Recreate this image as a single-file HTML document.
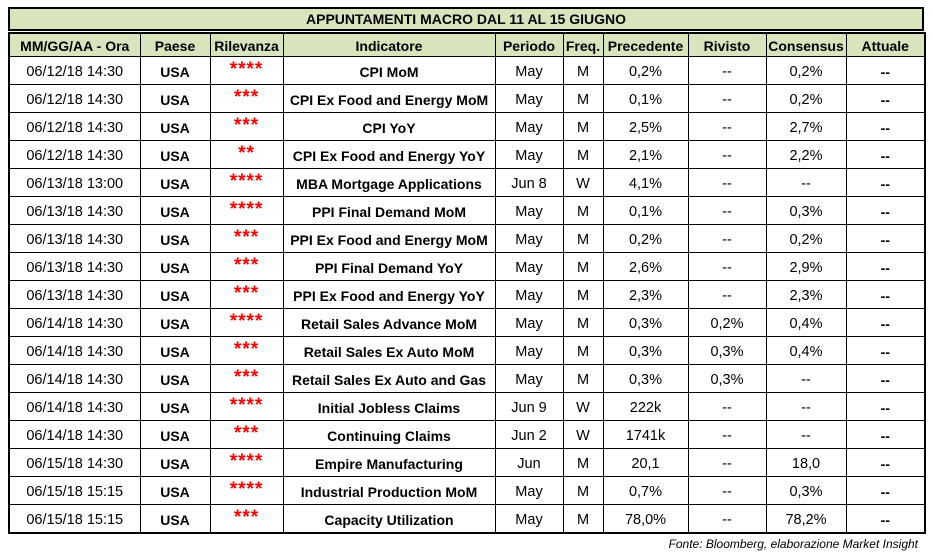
<!DOCTYPE html>
<html><head><meta charset="utf-8">
<style>
body{margin:0;background:#fff;width:932px;height:554px;position:relative;overflow:hidden;font-family:"Liberation Sans",Arial,sans-serif;color:#000}
#title{position:absolute;left:8px;top:7px;width:912px;height:20px;border:2px solid #000;background:#d8e4bc;font-weight:bold;font-size:14px;text-align:center;line-height:21px}
#tbl{position:absolute;left:8px;top:32px;border-collapse:collapse;table-layout:fixed;border:2px solid #000}
#tbl td,#tbl th{border:1px solid #000;text-align:center;padding:0;white-space:nowrap;overflow:hidden}
#tbl th{background:#d8e4bc;font-weight:bold;font-size:14px}
#tbl th div{height:22px;line-height:24px;overflow:hidden}
#tbl td div{height:27px;line-height:31px;overflow:hidden;font-size:14.5px}
#tbl td.b div{font-weight:bold;font-size:14px;line-height:30px}
#tbl td.r div{color:#ff0000;font-weight:bold;line-height:26px;font-size:19px;letter-spacing:1px}
#foot{position:absolute;right:14px;top:537px;font-size:12px;font-style:italic}
</style></head><body>
<div id="title">APPUNTAMENTI MACRO DAL 11 AL 15 GIUGNO</div>
<table id="tbl">
<colgroup><col style="width:131px"><col style="width:70px"><col style="width:73px"><col style="width:212px"><col style="width:68px"><col style="width:40px"><col style="width:85px"><col style="width:78px"><col style="width:80px"><col style="width:79px"></colgroup>
<thead><tr>
<th><div>MM/GG/AA - Ora</div></th><th><div>Paese</div></th><th><div>Rilevanza</div></th><th><div>Indicatore</div></th><th><div>Periodo</div></th><th><div>Freq.</div></th><th><div>Precedente</div></th><th><div>Rivisto</div></th><th><div>Consensus</div></th><th><div>Attuale</div></th>
</tr></thead>
<tbody id="body"></tbody>
</table>
<div id="foot">Fonte: Bloomberg, elaborazione Market Insight</div>
<script>
const dates=["06/12/18 14:30","06/12/18 14:30","06/12/18 14:30","06/12/18 14:30","06/13/18 13:00","06/13/18 14:30","06/13/18 14:30","06/13/18 14:30","06/13/18 14:30","06/14/18 14:30","06/14/18 14:30","06/14/18 14:30","06/14/18 14:30","06/14/18 14:30","06/15/18 14:30","06/15/18 15:15","06/15/18 15:15"];
const stars=[4,3,3,2,4,4,3,3,3,4,3,3,4,3,4,4,3];
const indicators=["CPI MoM","CPI Ex Food and Energy MoM","CPI YoY","CPI Ex Food and Energy YoY","MBA Mortgage Applications","PPI Final Demand MoM","PPI Ex Food and Energy MoM","PPI Final Demand YoY","PPI Ex Food and Energy YoY","Retail Sales Advance MoM","Retail Sales Ex Auto MoM","Retail Sales Ex Auto and Gas","Initial Jobless Claims","Continuing Claims","Empire Manufacturing","Industrial Production MoM","Capacity Utilization"];
const periods=["May","May","May","May","Jun 8","May","May","May","May","May","May","May","Jun 9","Jun 2","Jun","May","May"];
const freqs=["M","M","M","M","W","M","M","M","M","M","M","M","W","W","M","M","M"];
const previous=["0,2%","0,1%","2,5%","2,1%","4,1%","0,1%","0,2%","2,6%","2,3%","0,3%","0,3%","0,3%","222k","1741k","20,1","0,7%","78,0%"];
const revised=["--","--","--","--","--","--","--","--","--","0,2%","0,3%","0,3%","--","--","--","--","--"];
const consensus=["0,2%","0,2%","2,7%","2,2%","--","0,3%","0,2%","2,9%","2,3%","0,4%","0,4%","--","--","--","18,0","0,3%","78,2%"];
const body=document.getElementById('body');
const names=["date","country","relevance","indicator","period","frequency","previous","revised","consensus","actual"];
for(let i=0;i<dates.length;i++){
  const tr=document.createElement('tr');
  
  
  const vals=[dates[i],"USA","*".repeat(stars[i]),indicators[i],periods[i],freqs[i],previous[i],revised[i],consensus[i],"--"];
  vals.forEach((v,j)=>{
    const td=document.createElement('td');
    
    
    const d=document.createElement('div');
    d.textContent=v;
    td.appendChild(d);
    if(j===1||j===3||j===9)td.className='b';
    if(j===2)td.className='r';
    tr.appendChild(td);
  });
  body.appendChild(tr);
}
</script>
</body></html>
